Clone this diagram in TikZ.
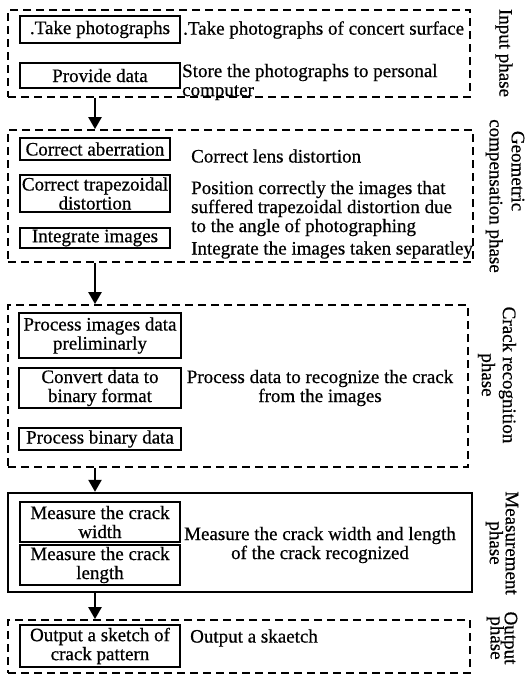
\documentclass[tikz,border=0pt]{standalone}
\usepackage{fontspec}
\setmainfont{Liberation Serif}[FakeBold=0.6]
\usetikzlibrary{arrows.meta}
\begin{document}
\begin{tikzpicture}[x=1pt,y=-1pt,
  every node/.style={font=\fontsize{19}{19}\selectfont, inner sep=0pt},
  phasebox/.style={draw, line width=1.8pt, dash pattern=on 8pt off 5pt, rectangle, inner sep=0pt},
  solidphase/.style={draw, line width=2.4pt, rectangle, inner sep=0pt},
  stepbox/.style={draw, line width=2.2pt, rectangle, align=center, inner sep=0pt},
  desc/.style={anchor=west, align=left},
  plabel/.style={rotate=-90, align=center},
  arr/.style={line width=2.4pt, -{Triangle[length=12pt,width=13pt]}}
]
\useasboundingbox (0,0) rectangle (527,675);

% phase 1
\node[phasebox, minimum width=462pt, minimum height=87pt] (p1) at (239,53.5) {};
\node[stepbox, minimum width=160pt, minimum height=27pt] (b1) at (100,29.5) {.Take photographs};
\node[stepbox, minimum width=160pt, minimum height=25pt] (b2) at (100,75.5) {Provide data};
\node[desc] (t1) at (183,30) {.Take photographs of concert surface};
\node[desc] (t2) at (182,82) {Store the photographs to personal\\computer};
\node[plabel] (l1) at (504,53) {Input phase};

% phase 2
\node[phasebox, minimum width=465pt, minimum height=132pt] (p2) at (240.5,196) {};
\node[stepbox, minimum width=150pt, minimum height=22pt] (b3) at (95,149) {Correct aberration};
\node[stepbox, minimum width=150pt, minimum height=37pt] (b4) at (95,193.5) {Correct trapezoidal\\distortion};
\node[stepbox, minimum width=150pt, minimum height=20pt] (b5) at (95,238) {Integrate images};
\node[desc] (t3) at (191,156) {Correct lens distortion};
\node[desc] (t4) at (191,208.5) {Position correctly the images that\\suffered trapezoidal distortion due\\to the angle of photographing};
\node[desc] (t5) at (191,250) {Integrate the images taken separatley};
\node[plabel] (l2) at (505,196) {Geometric\hspace*{50pt}\\[3pt]compensation phase};

% phase 3
\node[phasebox, minimum width=460pt, minimum height=162pt] (p3) at (238,386) {};
\node[stepbox, minimum width=162pt, minimum height=45pt] (b6) at (100,335.5) {Process images data\\preliminarly};
\node[stepbox, minimum width=162pt, minimum height=40pt] (b7) at (100,388) {Convert data to\\binary format};
\node[stepbox, minimum width=162pt, minimum height=22pt] (b8) at (100,439) {Process binary data};
\node[align=center] (t6) at (320,388) {Process data to recognize the crack\\from the images};
\node[plabel] (l3) at (497,375) {Crack recognition\\[2pt]phase};

% phase 4
\node[solidphase, minimum width=464pt, minimum height=99pt] (p4) at (240,542.5) {};
\node[stepbox, minimum width=160pt, minimum height=40pt] (b9) at (100,522) {Measure the crack\\width};
\node[stepbox, minimum width=160pt, minimum height=40pt] (b10) at (100,565) {Measure the crack\\length};
\node[align=center] (t7) at (320,545) {Measure the crack width and length\\of the crack recognized};
\node[plabel] (l4) at (502,543) {Measurement\\[-3pt]phase};

% phase 5
\node[phasebox, minimum width=462pt, minimum height=53pt] (p5) at (239,646.5) {};
\node[stepbox, minimum width=160pt, minimum height=42pt] (b11) at (100,646) {Output a sketch of\\crack pattern};
\node[desc] (t8) at (190,638) {Output a skaetch};
\node[plabel] (l5) at (502,638) {Output\\[-5pt]phase};

% arrows
\coordinate (ax) at (95,0);
\draw[arr] (p1.south -| ax) -- (p2.north -| ax);
\draw[arr] (p2.south -| ax) -- (p3.north -| ax);
\draw[arr] (p3.south -| ax) -- (p4.north -| ax);
\draw[arr] (p4.south -| ax) -- (p5.north -| ax);
\end{tikzpicture}
\end{document}
